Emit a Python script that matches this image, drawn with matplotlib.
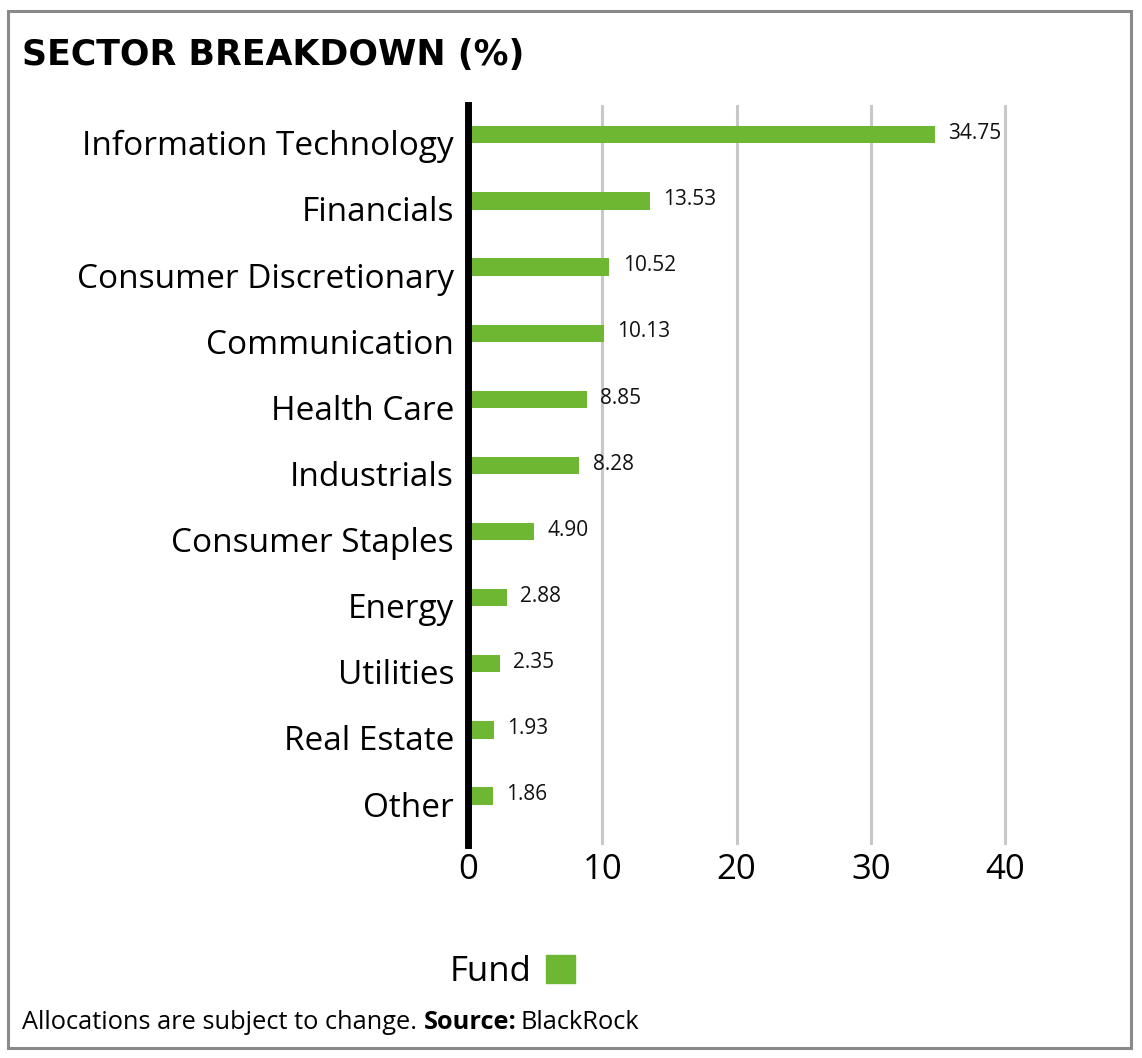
import matplotlib
matplotlib.use("Agg")
import matplotlib.pyplot as plt
import matplotlib.transforms as mtrans
from matplotlib.patches import Rectangle, Patch

SECTORS = [
    "Information Technology",
    "Financials",
    "Consumer Discretionary",
    "Communication",
    "Health Care",
    "Industrials",
    "Consumer Staples",
    "Energy",
    "Utilities",
    "Real Estate",
    "Other",
]
WEIGHTS = [34.75, 13.53, 10.52, 10.13, 8.85, 8.28, 4.90, 2.88, 2.35, 1.93, 1.86]
X_TICKS = [0, 10, 20, 30, 40]

GREEN = "#6db733"
GRID = "#c8c8c8"

plt.rcParams["font.family"] = ["Open Sans", "DejaVu Sans"]

fig = plt.figure(figsize=(11.42, 10.58), dpi=100)
ax = fig.add_axes([0.4098, 0.2013, 0.4939, 0.6994])

y = list(range(len(SECTORS)))
ax.barh(y, WEIGHTS, height=0.26, color=GREEN, zorder=3)
for yi, v in zip(y, WEIGHTS):
    ax.text(v + 1.0, yi - 0.02, f"{v:.2f}", va="center", ha="left", fontsize=15, color="#111111")

ax.set_xlim(0, 42)
ax.set_ylim(10.74, -0.45)
ax.set_yticks(y)
ax.set_yticklabels(SECTORS, fontsize=24)
ax.set_xticks(X_TICKS)
ax.set_xticklabels([str(t) for t in X_TICKS], fontsize=25)
ax.tick_params(axis="both", length=0)
ax.tick_params(axis="y", pad=10)
ax.tick_params(axis="x", pad=6)

# labels sit a little below the bar centre in the original
shift = mtrans.ScaledTranslation(0, -8 / 100, fig.dpi_scale_trans)
for lbl in ax.get_yticklabels():
    lbl.set_transform(lbl.get_transform() + shift)

for t in X_TICKS[1:]:
    ax.axvline(t, color=GRID, lw=2.2, zorder=1)
ax.axvline(0, color="black", lw=5, zorder=4, clip_on=False)
for s in ax.spines.values():
    s.set_visible(False)

# title
fig.text(0.019, 0.948, "SECTOR BREAKDOWN (%)", fontsize=25, fontweight="heavy",
         family=["DejaVu Sans"], va="center", ha="left")

# legend
fig.legend(handles=[Patch(color=GREEN, label="Fund")], loc="center",
           bbox_to_anchor=(0.449, 0.081), frameon=False, markerfirst=False,
           fontsize=25, handlelength=0.85, handleheight=0.85, handletextpad=0.4)

# footer
t1 = fig.text(0.019, 0.034, "Allocations are subject to change. ", fontsize=18.3,
              va="center", ha="left")
fig.canvas.draw()
bb = t1.get_window_extent()
x1 = bb.x1 / fig.bbox.width
t2 = fig.text(x1, 0.034, "Source:", fontsize=18.3, fontweight="bold", va="center", ha="left")
fig.canvas.draw()
bb2 = t2.get_window_extent()
x2 = bb2.x1 / fig.bbox.width
fig.text(x2 + 0.004, 0.034, "BlackRock", fontsize=18.3, va="center", ha="left")

# frame
fig.patches.append(Rectangle((0.007, 0.009), 0.983, 0.981, transform=fig.transFigure,
                             fill=False, edgecolor="#8a8a8a", lw=2.2))

fig.savefig("out.png", dpi=100)
